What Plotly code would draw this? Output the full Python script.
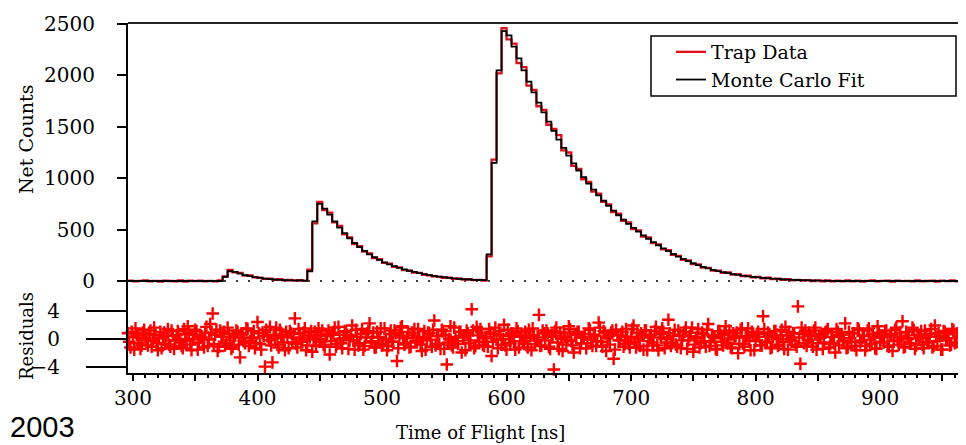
import numpy as np
import plotly.graph_objects as go

# Histograma de tiempo de vuelo: bins de 4 ns desde 296 ns
t_start = 296
bin_curve = 4

fit_counts = [
    0, 0, 0, 0, 0, 0, 0, 0, 0, 0, 0, 0, 0, 0, 0, 0, 0, 0, 0,
    40, 95, 88, 72, 58, 47, 38, 30, 24, 19, 15, 12, 9, 7, 6, 5, 4,
    95, 580, 750, 705, 645, 580, 520, 465, 415, 370, 330, 293, 260, 231, 205, 182,
    162, 144, 128, 113, 100, 88, 77, 67, 58, 50, 43, 37, 31, 26, 22, 18, 15, 12, 10, 8,
    260, 1150, 2050, 2430, 2390, 2280, 2165, 2050, 1940, 1835, 1735, 1640, 1550, 1460,
    1375, 1295, 1220, 1145, 1075, 1010, 948, 890, 834, 782, 732, 685, 640, 597, 556,
    517, 480, 445, 411, 379, 348, 318, 290, 263, 238, 215, 193, 173, 155, 138, 123,
    109, 97, 86, 76, 67, 59, 52, 46, 40, 35, 31, 27, 23, 20, 17, 14, 12, 10, 8, 6,
    5, 4, 3, 2, 1,
    0, 0, 0, 0, 0, 0, 0, 0, 0, 0, 0, 0, 0, 0, 0, 0, 0, 0, 0, 0, 0, 0, 0, 0, 0, 0, 0,
]

trap_counts = [
    3, -4, 2, 5, -3, 1, -6, 4, 0, -2, 6, -5, 3, -1, 4, -3, 2, -4, 5,
    45, 108, 85, 80, 52, 55, 36, 33, 20, 24, 12, 18, 6, 10, 3, 8, 2,
    110, 560, 770, 690, 665, 570, 535, 455, 425, 360, 338, 285, 268, 224, 212, 176,
    168, 138, 133, 106, 102, 82, 80, 61, 55, 46, 40, 30, 33, 20, 24, 14, 17, 8, 12, 5,
    240, 1180, 2020, 2460, 2350, 2310, 2120, 2080, 1900, 1860, 1700, 1665, 1520, 1480,
    1420, 1270, 1250, 1120, 1090, 990, 965, 870, 850, 770, 745, 670, 655, 585, 570,
    505, 492, 432, 425, 368, 356, 308, 300, 255, 245, 205, 200, 165, 162, 130, 128,
    102, 100, 80, 85, 62, 68, 48, 52, 36, 40, 25, 32, 18, 24, 12, 17, 6, 12, 3, 9,
    0, 6, -2, 5, -3,
    4, -3, 6, -2, 3, -5, 2, 5, -4, 1, 3, -6, 4, -1, 2, -3, 5, -2, 0, 4, -5, 3, -1, 6, -3, 2, -4,
]

# Residuos en ns pares (296, 298, ...)
residuals_even = [
    0.8, -1.2, 0.3, 1.5, -0.6, -1.4, 0.9, 0.1, -0.9, 1.2, -0.3, 0.6, -1.6, 1.0, 0.2, -0.7, 1.4, -1.1, 0.5, -0.2,
    1.1, -0.5, -1.3, 0.7, 1.8, -0.8, 0.0, 1.3, -1.5, 0.4, -0.1, 0.9, -1.0, 2.1, 3.6, 0.6, -1.7, 1.2, 0.3, -0.9,
    1.6, -0.2, -1.1, 0.5, 1.0, -2.6, 0.8, -0.6, 1.4, -0.3, 0.2, -1.3, 2.4, -0.7, 0.9, -3.9, 0.4, 1.7, -3.3, 0.1,
    -0.8, 1.3, 0.6, -1.6, 0.3, 1.1, -0.5, 2.9, -1.2, 0.7, -0.1, 1.5, -0.9, 0.2, -1.8, 1.0, 0.5, -0.4, 1.2, -1.1,
    0.4, -2.2, 0.9, 1.6, -0.7, 0.0, -1.3, 1.1, 0.6, -0.2, 1.9, -1.5, 0.3, -0.6, 1.4, -1.0, 0.8, 2.2, -0.3, -1.2,
    1.0, 0.2, -0.9, 1.5, -1.6, 0.7, -0.4, 1.2, -3.1, 0.5, 1.8, -0.8, 0.1, -1.2, 0.9, 1.4, -0.5, 0.3, -1.7, 1.1,
    -0.2, 0.8, -1.1, 2.6, 0.4, -0.7, 1.3, -1.4, -3.6, 0.0, -0.9, 1.6, -0.3, 1.0, -1.9, 0.5, 1.2, -0.6, 4.2, -1.3,
    1.7, -0.4, 0.9, -1.0, 0.3, 1.4, -2.4, 0.7, -0.1, 1.1, -0.8, 2.0, -1.5, 0.4, 0.8, -0.3, 1.5, -1.2, 0.6, -0.7,
    0.1, 1.3, -1.6, 0.5, -0.2, 3.4, -0.9, 0.8, 1.2, -1.1, 0.3, -4.3, 1.6, -1.4, 0.0, 0.9, -0.8, 1.8, -0.3, -1.9,
    0.7, 1.0, -0.6, 0.2, -1.3, 1.5, -0.1, 0.6, -1.0, 2.3, -0.4, 1.1, -1.7, 0.4, 0.9, -2.8, 1.3, -0.2, 0.5, -1.1,
    1.4, -0.7, 0.3, 1.9, -1.2, 0.0, 0.8, -1.5, 1.2, -0.3, 0.6, -0.9, 1.7, -1.6, 0.2, 1.0, -0.5, 2.7, -1.0, 0.4,
    -0.8, 1.2, -1.3, 0.5, 1.6, -0.2, 0.9, -1.8, 0.1, 1.4, -0.6, 0.7, -1.1, 2.1, -0.4, 0.3, -1.4, 1.1, 0.6, -0.9,
    1.8, -0.1, -1.2, 0.8, 0.4, -2.0, 1.3, -0.7, 0.2, 1.5, -1.6, 0.6, -0.3, 1.0, -0.9, 3.2, -0.5, 0.9, -1.3, 0.3,
    1.1, -1.0, 0.5, -0.4, 1.7, -1.5, 0.0, 0.8, -0.8, 4.6, -3.5, 0.7, 1.2, -0.2, 0.4, -1.1, 1.6, -0.6, 0.2, -1.4,
    0.9, 1.4, -0.7, 0.3, -1.9, 1.0, 0.6, -0.3, 2.2, -1.2, 0.1, 0.8, -1.0, 1.5, -0.5, 0.4, -1.6, 1.2, -0.1, 0.7,
    -1.3, 1.8, -0.4, 0.2, 1.1, -0.9, 0.5, -1.7, 1.3, -0.2, 0.9, 2.5, -1.1, 0.0, -0.6, 1.6, -1.4, 0.6, 0.3, -0.8,
    1.2, -0.5, 0.7, -1.2, 1.9, -0.3, 0.4, -1.5, 1.0, 0.1, -0.9, 1.4, -0.6, 0.8, -1.1, 0.5, -0.2,
]

# Residuos en ns impares (297, 299, ...)
residuals_odd = [
    -0.4, 1.0, -1.5, 0.6, 0.2, -0.9, 1.3, -0.2, 0.7, -1.1, 1.6, -0.6, 0.1, -1.3, 0.9, 0.4, -0.8, 1.2, -1.4, 0.5,
    0.0, -1.0, 1.4, -0.3, 0.8, -1.6, 0.6, 1.1, -0.5, 0.2, -1.2, 1.7, -0.1, 0.9, -0.7, 1.3, -1.1, 0.3, 1.0, -0.6,
    0.7, -1.4, 0.2, 1.2, -0.8, 0.5, -0.3, 1.5, -1.0, 0.1, 1.1, -0.6, 0.8, -1.5, 0.4, 1.3, -0.2, -0.9, 0.6, 1.6,
    -1.2, 0.3, -0.5, 1.0, -1.3, 0.8, 0.2, -0.7, 1.4, -0.4, 0.9, -1.6, 0.5, 1.1, -0.1, -1.0, 1.5, 0.0, -0.8, 0.7,
    1.2, -0.3, 0.6, -1.1, 1.7, -0.6, 0.1, 1.0, -1.4, 0.4, -0.2, 1.3, -0.9, 0.7, -1.5, 0.2, 1.1, -0.5, 0.9, -1.2,
    0.3, 1.5, -0.7, 0.0, -1.0, 1.2, -0.4, 0.8, -1.3, 1.6, 0.2, -0.6, 1.0, -1.1, 0.5, -0.3, 1.4, -0.8, 0.1, -1.5,
    0.9, -0.1, 1.3, -0.9, 0.4, -1.4, 1.1, 0.6, -0.5, 1.8, -1.2, 0.3, -0.7, 1.0, 0.2, -1.6, 0.8, -0.2, 1.2, -1.0,
    0.5, 1.4, -0.8, 0.1, -1.1, 0.9, -0.4, 1.6, -1.3, 0.6, 0.0, -0.9, 1.3, -0.6, 0.7, -1.5, 1.1, 0.3, -0.3, 1.0,
    -1.2, 0.4, 1.5, -0.7, 0.2, -1.0, 1.2, -0.2, 0.8, -1.4, 0.5, 1.1, -0.5, 0.9, -1.7, 0.3, -0.1, 1.4, -0.9, 0.6,
    1.0, -1.3, 0.2, 0.7, -0.6, 1.3, -1.0, 0.4, -0.3, 1.6, -1.1, 0.8, 0.1, -0.8, 1.2, -1.5, 0.6, -0.2, 1.0, -0.7,
    0.3, -1.2, 1.4, -0.4, 0.9, -1.0, 0.5, 1.2, -1.6, 0.2, -0.5, 1.1, -0.9, 0.7, 1.5, -1.3, 0.0, 0.8, -0.6, 1.3,
    -1.1, 0.6, -0.2, 1.0, -1.4, 0.4, 1.6, -0.8, 0.3, -1.2, 0.9, -0.3, 1.3, -1.0, 0.5, 0.1, -1.5, 1.1, -0.4, 0.8,
    -0.6, 1.2, -1.3, 0.2, 0.9, -0.7, 1.5, -1.1, 0.4, -0.2, 1.0, -1.6, 0.7, 0.3, -0.9, 1.4, -0.4, 0.6, -1.2, 1.1,
    0.0, -0.8, 1.3, -1.4, 0.5, 1.0, -0.3, 0.8, -1.1, 0.2, 1.6, -0.6, -1.0, 0.9, -0.1, 1.2, -1.5, 0.4, 0.7, -0.5,
    1.1, -1.2, 0.3, -0.6, 1.4, -0.9, 0.6, 0.1, -1.3, 1.0, -0.4, 0.8, -1.6, 1.3, -0.2, 0.5, -1.0, 1.5, -0.7, 0.2,
    -1.4, 0.9, 0.4, -0.5, 1.2, -1.1, 0.7, -0.3, 1.6, -0.8, 0.2, -1.2, 1.0, 0.5, -0.6, 1.3, -0.9, 0.1, 1.1, -1.3,
    0.6, -0.4, 1.4, -1.0, 0.3, 0.8, -1.5, 1.1, -0.2, 0.7, -0.8, 1.2, -0.5, 0.4, -1.1, 0.9,
]

count_ticks = [0, 500, 1000, 1500, 2000, 2500]
resid_ticks = [-4, 0, 4]
tof_ticks = [300, 350, 400, 450, 500, 550, 600, 650, 700, 750, 800, 850, 900, 950]
tof_labels = ['300', '', '400', '', '500', '', '600', '', '700', '', '800', '', '900', '']

t_curve = t_start + bin_curve * np.arange(len(fit_counts))
t_trap = t_start + bin_curve * np.arange(len(trap_counts))
t_even = t_start + 2 * np.arange(len(residuals_even))
t_odd = t_start + 1 + 2 * np.arange(len(residuals_odd))
t_resid = np.concatenate([t_even, t_odd])
resid = np.concatenate([residuals_even, residuals_odd])

W, H = 966, 445
OFF = 8  # margen del body en la pagina
serif = 'DejaVu Serif'

def px_x(p):
    return (p - OFF) / W

def px_y(p):
    return 1 - (p - OFF) / H

x_dom = [px_x(128), px_x(966)]
top_dom = [px_y(295), px_y(23)]
bot_dom = [px_y(373), px_y(295)]

fig = go.Figure()

fig.add_trace(go.Scatter(
    x=t_trap, y=trap_counts, mode='lines', line=dict(color='#e0101a', width=2.3, shape='hv'),
    name='Trap Data', legendgroup='a', xaxis='x2', yaxis='y'))
fig.add_trace(go.Scatter(
    x=t_curve, y=fit_counts, mode='lines', line=dict(color='black', width=1.8, shape='hv'),
    name='Monte Carlo Fit', legendgroup='b', xaxis='x2', yaxis='y'))
fig.add_trace(go.Scatter(
    x=t_resid, y=resid, mode='markers', showlegend=False, cliponaxis=False,
    marker=dict(symbol='cross-thin', size=9, color='#ff0000', line=dict(color='#ff0000', width=2.4)),
    xaxis='x', yaxis='y2'))

# linea de cero punteada
fig.add_shape(type='line', xref='x2 domain', yref='y', x0=0, x1=1, y0=0, y1=0,
              line=dict(color='black', width=1.6, dash='2px,10px'), layer='below')
# borde superior
fig.add_shape(type='line', xref='paper', yref='paper', x0=x_dom[0], x1=x_dom[1], y0=top_dom[1], y1=top_dom[1],
              line=dict(color='#222222', width=2.2))
# caja de la leyenda
fig.add_shape(type='rect', xref='paper', yref='paper', x0=px_x(651), x1=px_x(956), y0=px_y(96), y1=px_y(36),
              line=dict(color='black', width=1.5), fillcolor='rgba(0,0,0,0)')

tickfont = dict(family=serif, size=20, color='black')

fig.update_layout(
    width=W, height=H,
    margin=dict(l=0, r=0, t=0, b=0, autoexpand=False),
    paper_bgcolor='white', plot_bgcolor='white',
    showlegend=True,
    legend=dict(x=px_x(671), y=px_y(33), xanchor='left', yanchor='top',
                bgcolor='rgba(0,0,0,0)', borderwidth=0,
                font=dict(family=serif, size=19, color='black'),
                tracegroupgap=4, traceorder='normal'),
    xaxis=dict(domain=x_dom, range=[296, 969], anchor='y2', automargin=False,
               showline=True, linecolor='black', linewidth=2,
               ticks='outside', tickvals=tof_ticks, ticktext=tof_labels, ticklen=6, tickwidth=2,
               tickcolor='black', tickfont=tickfont, showgrid=False, zeroline=False,
               minor=dict(dtick=10, ticks='outside', ticklen=3, tickwidth=1.5, tickcolor='black',
                          showgrid=False)),
    xaxis2=dict(domain=x_dom, matches='x', anchor='y', visible=False, automargin=False),
    yaxis=dict(domain=top_dom, range=[-136, 2510], anchor='x2', automargin=False,
               showline=True, linecolor='black', linewidth=2,
               ticks='outside', tickvals=count_ticks, ticklen=9, tickwidth=2, tickcolor='black',
               ticklabelstandoff=18, tickfont=tickfont, showgrid=False, zeroline=False),
    yaxis2=dict(domain=bot_dom, range=[-4.8, 6.2], anchor='x', automargin=False,
                showline=True, linecolor='black', linewidth=2,
                ticks='outside', tickvals=resid_ticks, ticktext=['\u22124', '0', '4'],
                ticklen=40, tickwidth=2, tickcolor='black',
                ticklabelstandoff=22, tickfont=tickfont, showgrid=False, zeroline=False),
)

fig.add_annotation(text='Net Counts', xref='paper', yref='paper', x=px_x(26), y=px_y(140),
                   xanchor='center', yanchor='middle',
                   textangle=-90, showarrow=False, font=dict(family=serif, size=19, color='black'))
fig.add_annotation(text='Residuals', xref='paper', yref='paper', x=px_x(26), y=px_y(336),
                   xanchor='center', yanchor='middle',
                   textangle=-90, showarrow=False, font=dict(family=serif, size=18, color='black'))
fig.add_annotation(text='Time of Flight [ns]', xref='paper', yref='paper', x=px_x(480), y=px_y(432),
                   xanchor='center', yanchor='middle',
                   showarrow=False, font=dict(family=serif, size=18, color='black'))
fig.add_annotation(text='2003', xref='paper', yref='paper', x=0, y=px_y(427), xanchor='left',
                   yanchor='middle',
                   showarrow=False, font=dict(family='Liberation Sans', size=29, color='black'))

fig.write_html("out.html")
